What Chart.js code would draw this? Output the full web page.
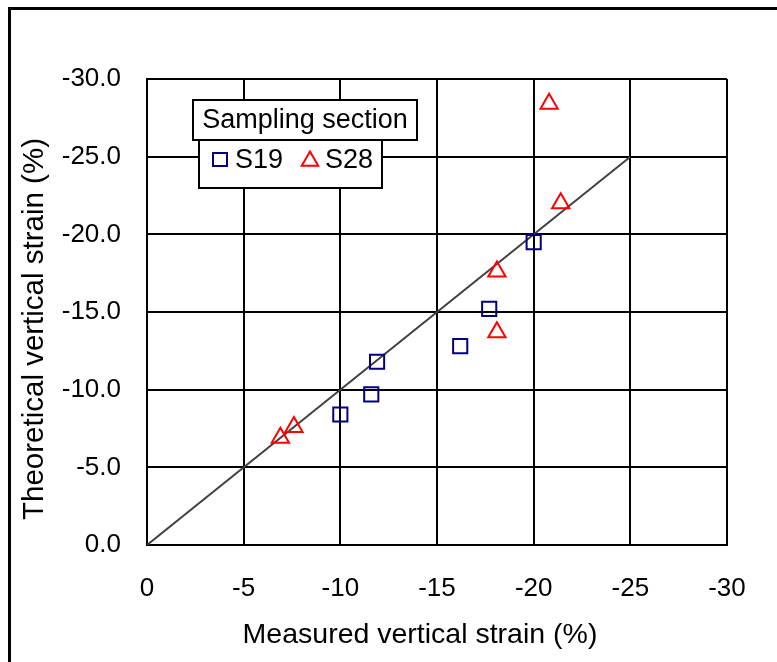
<!DOCTYPE html>
<html>
<head>
<meta charset="utf-8">
<script src="https://cdn.jsdelivr.net/npm/chart.js@4.4.1/dist/chart.umd.min.js"></script>
<style>
  html, body { margin: 0; padding: 0; background: #fff; }
  #wrap { position: relative; width: 777px; height: 662px; }
</style>
</head>
<body>
<div id="wrap"><canvas id="c" width="777" height="662"></canvas></div>
<script>
// Axis tick values (%)
const xTickValues = [0, -5, -10, -15, -20, -25, -30];
const yTickValues = [0, -5, -10, -15, -20, -25, -30];

// Sampling section S19: measured vs theoretical vertical strain (%)
const s19Measured    = [-10.0, -11.6, -11.9, -16.2, -17.7, -20.0];
const s19Theoretical = [ -8.4,  -9.7, -11.8, -12.8, -15.2, -19.5];

// Sampling section S28
const s28Measured    = [-6.9, -7.6, -18.1, -18.1, -20.8, -21.4];
const s28Theoretical = [-6.9, -7.6, -17.6, -13.7, -28.4, -22.0];

// 1:1 reference line end points
const lineOfEquality = [0, -25];

const legendTitle = 'Sampling section';
const seriesNames = ['S19', 'S28'];

const FONT = "'Liberation Sans', Arial, sans-serif";
const toPoints = (xs, ys) => xs.map((x, i) => ({ x: x, y: ys[i] }));

// Outer frame and white background
const framePlugin = {
  id: 'frame',
  beforeDraw(chart) {
    const ctx = chart.ctx;
    ctx.save();
    ctx.fillStyle = '#fff';
    ctx.fillRect(0, 0, chart.width, chart.height);
    ctx.strokeStyle = '#000';
    ctx.lineWidth = 3;
    ctx.strokeRect(9.5, 8.5, chart.width + 20, chart.height + 20);
    ctx.restore();
  }
};

// Axis titles sit a little off the centre of the plot area
const titleShiftPlugin = {
  id: 'titleShift',
  afterUpdate(chart) {
    const shifts = { x: [-17, 0], y: [0, 17] };
    Object.keys(shifts).forEach(id => {
      const scale = chart.scales[id];
      if (!scale || scale._shifted) return;
      const base = Object.getPrototypeOf(scale).drawTitle;
      scale.drawTitle = function () {
        const ctx = this.ctx;
        ctx.save();
        ctx.translate(shifts[id][0], shifts[id][1]);
        base.call(this);
        ctx.restore();
      };
      scale._shifted = true;
    });
  }
};

// Boxed legend drawn inside the plot area
const boxLegendPlugin = {
  id: 'boxLegend',
  afterDatasetsDraw(chart) {
    const ctx = chart.ctx;
    const a = chart.chartArea;
    const tx = a.left + 46, ty = a.top + 21, tw = 224, th = 40;
    const ix = a.left + 52, iy = ty + th, iw = 183, ih = 48;
    ctx.save();
    ctx.lineWidth = 2;
    ctx.strokeStyle = '#000';
    ctx.fillStyle = '#fff';
    ctx.fillRect(ix, iy, iw, ih);
    ctx.strokeRect(ix, iy, iw, ih);
    ctx.fillRect(tx, ty, tw, th);
    ctx.strokeRect(tx, ty, tw, th);

    ctx.fillStyle = '#000';
    ctx.font = '27px ' + FONT;
    ctx.textBaseline = 'middle';
    ctx.textAlign = 'center';
    ctx.fillText(legendTitle, tx + tw / 2, ty + th / 2 + 1);

    const rowY = iy + 20;
    const ds = chart.data.datasets;
    // S19 marker (square)
    ctx.strokeStyle = ds[0].borderColor;
    ctx.lineWidth = 2;
    ctx.strokeRect(ix + 14, rowY - 7, 14, 13);
    // S28 marker (triangle)
    const cx = ix + 111, cy = rowY + 1, r = 9.5;
    ctx.strokeStyle = ds[1].borderColor;
    ctx.beginPath();
    ctx.moveTo(cx, cy - r);
    ctx.lineTo(cx + r * Math.sin(Math.PI * 2 / 3), cy + r / 2);
    ctx.lineTo(cx - r * Math.sin(Math.PI * 2 / 3), cy + r / 2);
    ctx.closePath();
    ctx.stroke();

    ctx.fillStyle = '#000';
    ctx.textAlign = 'left';
    ctx.fillText(seriesNames[0], ix + 36, rowY + 1);
    ctx.fillText(seriesNames[1], ix + 126, rowY + 1);
    ctx.restore();
  }
};

new Chart(document.getElementById('c'), {
  type: 'scatter',
  data: {
    datasets: [
      {
        label: seriesNames[0],
        data: toPoints(s19Measured, s19Theoretical),
        pointStyle: 'rect',
        pointRadius: 10,
        pointBorderWidth: 2,
        borderColor: '#000080',
        backgroundColor: 'rgba(0,0,0,0)',
        order: 1
      },
      {
        label: seriesNames[1],
        data: toPoints(s28Measured, s28Theoretical),
        pointStyle: 'triangle',
        pointRadius: 10,
        pointBorderWidth: 2,
        borderColor: '#ff0000',
        backgroundColor: 'rgba(0,0,0,0)',
        order: 0
      },
      {
        label: '1:1',
        data: toPoints(lineOfEquality, lineOfEquality),
        showLine: true,
        pointRadius: 0,
        borderColor: '#404040',
        borderWidth: 2,
        order: 2
      }
    ]
  },
  options: {
    responsive: false,
    animation: false,
    events: [],
    layout: { padding: { left: 0, top: 79, right: 50, bottom: 0 } },
    plugins: {
      legend: { display: false },
      tooltip: { enabled: false }
    },
    scales: {
      x: {
        type: 'linear',
        min: -30, max: 0, reverse: true,
        afterBuildTicks: s => { s.ticks = xTickValues.map(v => ({ value: v })); },
        afterFit: s => { s.height = 117; },
        grid: { color: '#000', lineWidth: 2, drawTicks: false },
        border: { color: '#000', width: 2 },
        ticks: {
          color: '#000', padding: 28, maxRotation: 0,
          font: { family: FONT, size: 26 },
          callback: v => String(v)
        },
        title: {
          display: true, text: 'Measured vertical strain (%)', color: '#000',
          font: { family: FONT, size: 28.5 }, padding: { bottom: 10 }
        }
      },
      y: {
        type: 'linear',
        min: -30, max: 0, reverse: true,
        afterBuildTicks: s => { s.ticks = yTickValues.map(v => ({ value: v })); },
        afterFit: s => { s.width = 147; },
        grid: { color: '#000', lineWidth: 2, drawTicks: false },
        border: { color: '#000', width: 2 },
        ticks: {
          color: '#000', padding: 26,
          font: { family: FONT, size: 26 },
          callback: v => Number(v).toFixed(1)
        },
        title: {
          display: true, text: 'Theoretical vertical strain (%)', color: '#000',
          font: { family: FONT, size: 29.5 }, padding: { top: 17 }
        }
      }
    }
  },
  plugins: [framePlugin, titleShiftPlugin, boxLegendPlugin]
});
</script>
</body>
</html>
